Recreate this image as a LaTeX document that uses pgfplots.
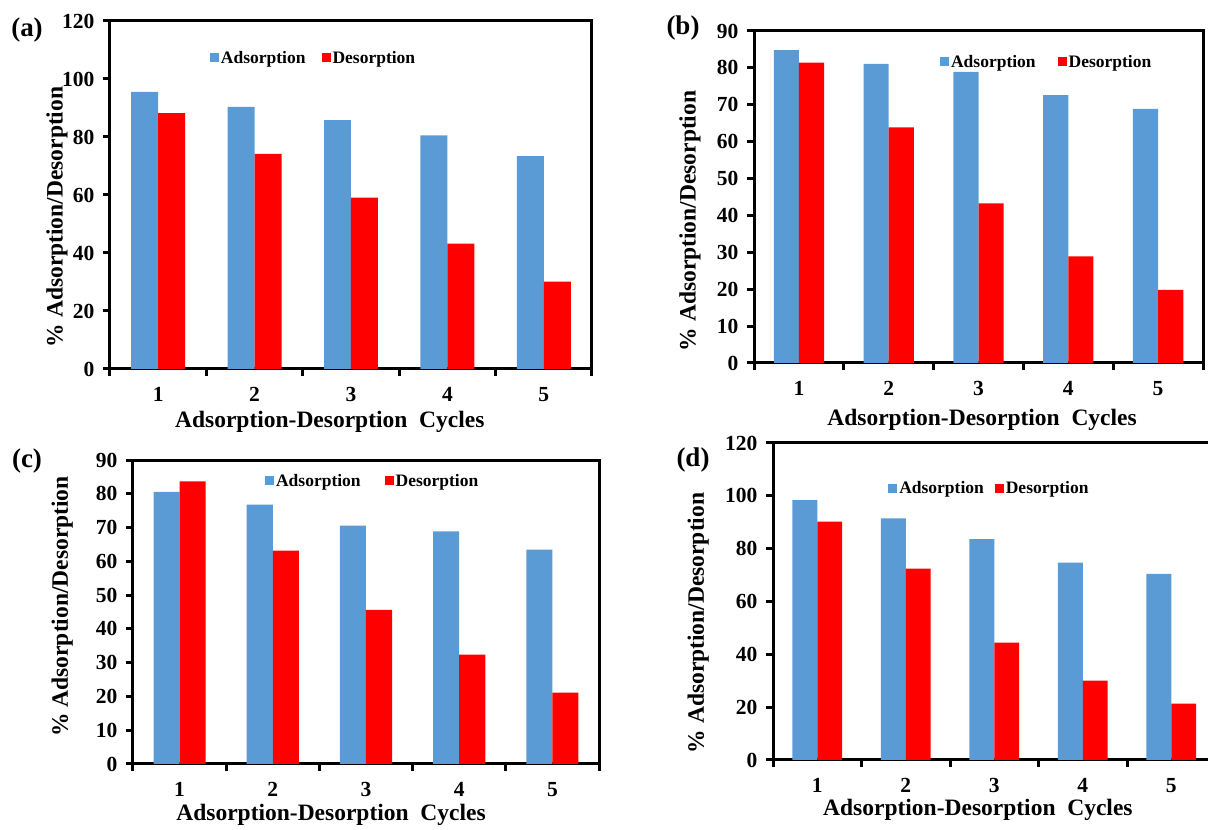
\documentclass[border=0pt]{standalone}
\usepackage{pgfplots}
\pgfplotsset{compat=1.18}
\usepackage{fontspec}
\setmainfont{Liberation Serif}
\definecolor{adblue}{RGB}{91,155,213}
\definecolor{dered}{RGB}{255,0,0}
\pgfplotsset{
  panel/.style={
    scale only axis, ybar, bar width=0.28,
    xmin=0.5, xmax=5.5, ymin=0,
    axis line style={line width=3pt, black},
    tick style={line width=3pt, black},
    tick align=outside, major tick length=7pt,
    tick pos=left,
    xtick={0.5,1.5,2.5,3.5,4.5,5.5}, xticklabels={},
    extra x ticks={1,2,3,4,5}, extra x tick labels={1,2,3,4,5},
    extra x tick style={tick style={draw=none}},
    ticklabel style={font=\bfseries\fontsize{21.5}{21.5}\selectfont},
    xticklabel style={yshift=-8pt},
    yticklabel style={xshift=-5pt},
    /pgf/number format/assume math mode=true,
    label style={font=\bfseries\fontsize{23.5}{23.5}\selectfont},
    xlabel={Adsorption-Desorption\ \ Cycles},
    ylabel={\% Adsorption/Desorption},
    legend style={draw=none, fill=none, anchor=west, legend columns=2,
      inner sep=0pt, font=\bfseries\fontsize{17.5}{17.5}\selectfont,
      nodes={inner xsep=2pt}},
  },
  adplot/.style={fill=adblue, draw=none, bar shift=-0.14,
    legend image code/.code={\fill[adblue] (0pt,-4.5pt) rectangle (9pt,4.5pt);}},
  deplot/.style={fill=dered, draw=none, bar shift=0.14,
    legend image code/.code={\fill[dered] (0pt,-4.5pt) rectangle (9pt,4.5pt);}},
}
\begin{document}
\begin{tikzpicture}
\useasboundingbox (0,0) rectangle (1208pt,830pt);
% (a)
\begin{axis}[panel, at={(110pt,461pt)}, anchor=south west,
  width=482pt, height=348pt, ymax=120, ytick distance=20,
  xlabel style={at={(axis description cs:0.456,-0.152)}, anchor=center},
  ylabel style={at={(axis description cs:-0.11,0.437)}, anchor=center},
  legend style={at={(rel axis cs:0.207,0.894)},
    /tikz/every even column/.append style={column sep=14pt}}]
\addplot[adplot] coordinates {(1,95.6) (2,90.4) (3,85.8) (4,80.6) (5,73.4)};
\addplot[deplot] coordinates {(1,88.2) (2,74.2) (3,59.1) (4,43.2) (5,30.1)};
\legend{Adsorption, Desorption}
\end{axis}
% (b)
\begin{axis}[panel, at={(754pt,467pt)}, anchor=south west,
  width=449pt, height=332pt, ymax=90, ytick distance=10,
  xlabel style={at={(axis description cs:0.508,-0.172)}, anchor=center},
  ylabel style={at={(axis description cs:-0.1425,0.428)}, anchor=center},
  legend style={at={(rel axis cs:0.414,0.907)},
    /tikz/every even column/.append style={column sep=20pt}}]
\addplot[adplot] coordinates {(1,84.8) (2,81.1) (3,78.9) (4,72.6) (5,68.9)};
\addplot[deplot] coordinates {(1,81.4) (2,63.9) (3,43.3) (4,28.9) (5,19.8)};
\legend{Adsorption, Desorption}
\end{axis}
% (c)
\begin{axis}[panel, at={(133pt,66pt)}, anchor=south west,
  width=466pt, height=304pt, ymax=90, ytick distance=10,
  xlabel style={at={(axis description cs:0.425,-0.168)}, anchor=center},
  ylabel style={at={(axis description cs:-0.152,0.518)}, anchor=center},
  legend style={at={(rel axis cs:0.283,0.931)},
    /tikz/every even column/.append style={column sep=22pt}}]
\addplot[adplot] coordinates {(1,80.6) (2,76.8) (3,70.6) (4,68.9) (5,63.5)};
\addplot[deplot] coordinates {(1,83.7) (2,63.2) (3,45.6) (4,32.4) (5,21.1)};
\legend{Adsorption, Desorption}
\end{axis}
% (d)
\begin{axis}[panel, at={(773pt,70pt)}, anchor=south west,
  width=442.5pt, height=317pt, ymax=120, ytick distance=20,
  xlabel style={at={(axis description cs:0.463,-0.158)}, anchor=center},
  ylabel style={at={(axis description cs:-0.169,0.432)}, anchor=center},
  legend style={at={(rel axis cs:0.26,0.858)},
    /tikz/every even column/.append style={column sep=9pt}}]
\addplot[adplot] coordinates {(1,98.4) (2,91.5) (3,83.6) (4,74.7) (5,70.5)};
\addplot[deplot] coordinates {(1,90.2) (2,72.4) (3,44.4) (4,30.0) (5,21.3)};
\legend{Adsorption, Desorption}
\end{axis}
\node[font=\bfseries\fontsize{27}{27}\selectfont] at (27pt,800pt) {(a)};
\node[font=\bfseries\fontsize{27}{27}\selectfont] at (683pt,802pt) {(b)};
\node[font=\bfseries\fontsize{27}{27}\selectfont] at (27pt,369pt) {(c)};
\node[font=\bfseries\fontsize{27}{27}\selectfont] at (693pt,370pt) {(d)};
\end{tikzpicture}
\end{document}
